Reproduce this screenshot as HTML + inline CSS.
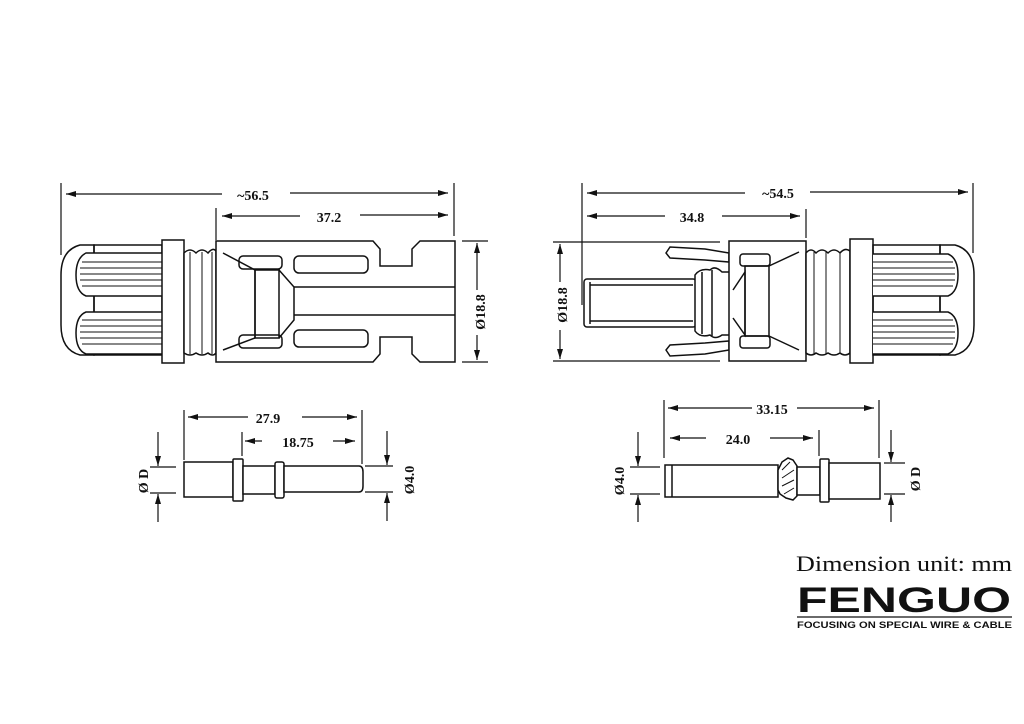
<!DOCTYPE html>
<html><head><style>
html,body{margin:0;padding:0;background:#fff;}
svg{display:block}
text{font-family:"Liberation Serif",serif;fill:#111;}
</style></head><body>
<svg width="1024" height="724" viewBox="0 0 1024 724" xmlns="http://www.w3.org/2000/svg">
<defs>
<marker id="a" viewBox="0 0 10 6" refX="10" refY="3" markerWidth="10" markerHeight="6" orient="auto-start-reverse" markerUnits="userSpaceOnUse"><path d="M0,0 L10,3 L0,6 z" fill="#111"/></marker>
</defs>
<g stroke="#111" stroke-width="1.2" fill="none">
<!-- LEFT TOP dims -->
<line x1="61" y1="183" x2="61" y2="255"/><line x1="454" y1="183" x2="454" y2="236"/>
<line x1="66" y1="194" x2="222" y2="194" marker-start="url(#a)"/><line x1="290" y1="193" x2="448" y2="193" marker-end="url(#a)"/>
<line x1="216" y1="208" x2="216" y2="240"/>
<line x1="222" y1="216" x2="300" y2="216" marker-start="url(#a)"/><line x1="360" y1="215" x2="448" y2="215" marker-end="url(#a)"/>
<line x1="462" y1="241" x2="488" y2="241"/><line x1="462" y1="362" x2="488" y2="362"/>
<line x1="477" y1="243" x2="477" y2="290" marker-start="url(#a)"/><line x1="477" y1="335" x2="477" y2="360" marker-end="url(#a)"/>
</g>
<text x="253" y="200" font-size="14" font-weight="bold" text-anchor="middle">~56.5</text>
<text x="329" y="222" font-size="14" font-weight="bold" text-anchor="middle">37.2</text>
<text transform="translate(485,312) rotate(-90)" font-size="14" font-weight="bold" text-anchor="middle">Ø18.8</text>

<!-- LEFT CONNECTOR -->
<g stroke="#111" stroke-width="1.5" fill="#fff">
<path d="M94,245 L80,245 Q61,250 61,275 L61,325 Q61,350 80,355 L94,355 Z"/>
<rect x="94" y="245" width="68" height="110" fill="none"/>
<path d="M162,253 L86,253 Q76,258 76,275 Q76,292 86,296 L162,296"/>
<path d="M162,312 L86,312 Q76,316 76,333 Q76,350 86,354 L162,354"/>
<g stroke-width="1">
<line x1="82" y1="262" x2="162" y2="262"/><line x1="80" y1="268" x2="162" y2="268"/><line x1="80" y1="274" x2="162" y2="274"/><line x1="80" y1="280" x2="162" y2="280"/><line x1="82" y1="286" x2="162" y2="286"/>
<line x1="82" y1="320" x2="162" y2="320"/><line x1="80" y1="326" x2="162" y2="326"/><line x1="80" y1="332" x2="162" y2="332"/><line x1="80" y1="338" x2="162" y2="338"/><line x1="82" y1="344" x2="162" y2="344"/>
</g>
<rect x="162" y="240" width="22" height="123"/>
<path d="M184,253 Q190,247 196,253 Q202,247 208,253 Q213,247 216,251 L216,353 Q213,357 208,353 Q202,357 196,353 Q190,357 184,353 Z"/>
<g stroke-width="1"><line x1="190" y1="252" x2="190" y2="354"/><line x1="202" y1="252" x2="202" y2="354"/><line x1="212" y1="252" x2="212" y2="354"/></g>
<path d="M216,241 L373,241 L380,249 L380,266 L412,266 L412,249 L420,241 L455,241 L455,362 L420,362 L412,354 L412,337 L380,337 L380,354 L373,362 L216,362 Z"/>
<path d="M223,253 L255,270 L255,338 L223,350" fill="none"/>
<rect x="239" y="256" width="43" height="13" rx="4" fill="none"/>
<rect x="239" y="335" width="43" height="13" rx="4" fill="none"/>
<rect x="255" y="270" width="24" height="68" fill="none"/>
<path d="M279,270 L294,287 L294,320 L279,338" fill="none"/>
<line x1="294" y1="287" x2="455" y2="287"/><line x1="294" y1="315" x2="455" y2="315"/>
<rect x="294" y="256" width="74" height="17" rx="5" fill="none"/>
<rect x="294" y="330" width="74" height="17" rx="5" fill="none"/>
</g>

<!-- RIGHT TOP dims -->
<g stroke="#111" stroke-width="1.2" fill="none">
<line x1="582" y1="183" x2="582" y2="305"/><line x1="973" y1="183" x2="973" y2="253"/>
<line x1="587" y1="193" x2="745" y2="193" marker-start="url(#a)"/><line x1="810" y1="192" x2="968" y2="192" marker-end="url(#a)"/>
<line x1="806" y1="209" x2="806" y2="238"/>
<line x1="587" y1="216" x2="665" y2="216" marker-start="url(#a)"/><line x1="722" y1="216" x2="800" y2="216" marker-end="url(#a)"/>
<line x1="553" y1="242" x2="720" y2="242"/><line x1="553" y1="361" x2="720" y2="361"/>
<line x1="560" y1="244" x2="560" y2="282" marker-start="url(#a)"/><line x1="560" y1="330" x2="560" y2="359" marker-end="url(#a)"/>
</g>
<text x="778" y="198" font-size="14" font-weight="bold" text-anchor="middle">~54.5</text>
<text x="692" y="222" font-size="14" font-weight="bold" text-anchor="middle">34.8</text>
<text transform="translate(567,305) rotate(-90)" font-size="14" font-weight="bold" text-anchor="middle">Ø18.8</text>

<!-- RIGHT CONNECTOR -->
<g stroke="#111" stroke-width="1.5" fill="#fff">
<path d="M666,253 L670,247 L705,249 L729,253 L729,262 L705,260 L670,258 Z"/>
<path d="M666,350 L670,356 L705,354 L729,350 L729,341 L705,343 L670,345 Z"/>
<rect x="584" y="279" width="112" height="48" rx="3"/>
<line x1="590" y1="282" x2="590" y2="324"/><line x1="590" y1="285" x2="693" y2="285"/><line x1="590" y1="321" x2="693" y2="321"/>
<path d="M695,275 Q700,268 710,270 Q715,265 722,272 L730,272 L730,335 L722,335 Q715,340 710,335 Q700,338 695,331 Z"/>
<line x1="702" y1="272" x2="702" y2="334"/><line x1="712" y1="270" x2="712" y2="336"/>
<rect x="729" y="241" width="77" height="120"/>
<path d="M733,290 L745,272 L745,335 L733,318" fill="none"/>
<rect x="740" y="254" width="30" height="12" rx="3" fill="none"/>
<rect x="740" y="336" width="30" height="12" rx="3" fill="none"/>
<rect x="745" y="266" width="24" height="70" fill="none"/>
<path d="M769,266 L799,252 M769,336 L799,350" fill="none"/>
<path d="M806,253 Q811,247 816,253 Q822,247 828,253 Q834,247 840,253 Q845,247 850,251 L850,353 Q845,357 840,353 Q834,357 828,353 Q822,357 816,353 Q811,357 806,353 Z"/>
<g stroke-width="1"><line x1="814" y1="252" x2="814" y2="354"/><line x1="826" y1="252" x2="826" y2="354"/><line x1="840" y1="252" x2="840" y2="354"/></g>
<rect x="850" y="239" width="23" height="124"/>
<path d="M940,245 L955,245 Q974,250 974,275 L974,325 Q974,350 955,355 L940,355 Z"/>
<rect x="873" y="245" width="67" height="110" fill="none"/>
<path d="M873,254 L948,254 Q958,258 958,275 Q958,292 948,296 L873,296"/>
<path d="M873,312 L948,312 Q958,316 958,333 Q958,350 948,354 L873,354"/>
<g stroke-width="1">
<line x1="873" y1="262" x2="953" y2="262"/><line x1="873" y1="268" x2="955" y2="268"/><line x1="873" y1="274" x2="955" y2="274"/><line x1="873" y1="280" x2="955" y2="280"/><line x1="873" y1="286" x2="953" y2="286"/>
<line x1="873" y1="320" x2="953" y2="320"/><line x1="873" y1="326" x2="955" y2="326"/><line x1="873" y1="332" x2="955" y2="332"/><line x1="873" y1="338" x2="955" y2="338"/><line x1="873" y1="344" x2="953" y2="344"/>
</g>
</g>

<!-- BOTTOM LEFT PIN -->
<g stroke="#111" stroke-width="1.2" fill="none">
<line x1="184" y1="410" x2="184" y2="460"/><line x1="362" y1="410" x2="362" y2="464"/>
<line x1="188" y1="417" x2="248" y2="417" marker-start="url(#a)"/><line x1="302" y1="417" x2="357" y2="417" marker-end="url(#a)"/>
<line x1="242" y1="432" x2="242" y2="456"/>
<line x1="245" y1="441" x2="262" y2="441" marker-start="url(#a)"/><line x1="333" y1="441" x2="355" y2="441" marker-end="url(#a)"/>
<line x1="150" y1="467" x2="176" y2="467"/><line x1="150" y1="493" x2="176" y2="493"/>
<line x1="158" y1="432" x2="158" y2="466" marker-end="url(#a)"/><line x1="158" y1="494" x2="158" y2="522" marker-start="url(#a)"/>
<line x1="365" y1="466" x2="393" y2="466"/><line x1="365" y1="492" x2="393" y2="492"/>
<line x1="387" y1="431" x2="387" y2="465" marker-end="url(#a)"/><line x1="387" y1="493" x2="387" y2="521" marker-start="url(#a)"/>
</g>
<g stroke="#111" stroke-width="1.5" fill="#fff">
<rect x="184" y="462" width="49" height="35"/>
<rect x="233" y="459" width="10" height="42" rx="1"/>
<rect x="243" y="466" width="32" height="28"/>
<rect x="275" y="462" width="9" height="36" rx="2"/>
<path d="M284,466 L359,466 Q363,466 363,472 L363,486 Q363,492 359,492 L284,492 Z"/>
</g>
<text x="268" y="423" font-size="14" font-weight="bold" text-anchor="middle">27.9</text>
<text x="298" y="447" font-size="14" font-weight="bold" text-anchor="middle">18.75</text>
<text transform="translate(148,481) rotate(-90)" font-size="14" font-weight="bold" text-anchor="middle">Ø D</text>
<text transform="translate(414,480) rotate(-90)" font-size="14" font-weight="bold" text-anchor="middle">Ø4.0</text>

<!-- BOTTOM RIGHT PIN -->
<g stroke="#111" stroke-width="1.2" fill="none">
<line x1="664" y1="400" x2="664" y2="458"/><line x1="879" y1="400" x2="879" y2="458"/>
<line x1="668" y1="408" x2="752" y2="408" marker-start="url(#a)"/><line x1="797" y1="408" x2="874" y2="408" marker-end="url(#a)"/>
<line x1="819" y1="430" x2="819" y2="456"/>
<line x1="670" y1="438" x2="706" y2="438" marker-start="url(#a)"/><line x1="770" y1="438" x2="813" y2="438" marker-end="url(#a)"/>
<line x1="630" y1="467" x2="660" y2="467"/><line x1="630" y1="494" x2="660" y2="494"/>
<line x1="638" y1="432" x2="638" y2="466" marker-end="url(#a)"/><line x1="638" y1="495" x2="638" y2="522" marker-start="url(#a)"/>
<line x1="884" y1="463" x2="905" y2="463"/><line x1="884" y1="494" x2="905" y2="494"/>
<line x1="891" y1="430" x2="891" y2="462" marker-end="url(#a)"/><line x1="891" y1="495" x2="891" y2="522" marker-start="url(#a)"/>
</g>
<g stroke="#111" stroke-width="1.5" fill="#fff">
<rect x="665" y="465" width="113" height="32"/>
<line x1="672" y1="465" x2="672" y2="497"/>
<path d="M778,470 L782,462 L788,458 L793,460 L797,466 L797,496 L793,500 L786,498 L780,494 L778,490 Z"/>
<path d="M782,470 L790,462 M782,478 L794,470 M782,486 L794,480 M784,494 L794,488" fill="none" stroke-width="1"/>
<rect x="797" y="467" width="23" height="28"/>
<rect x="820" y="459" width="9" height="43" rx="1"/>
<rect x="829" y="463" width="51" height="36"/>
</g>
<text x="772" y="414" font-size="14" font-weight="bold" text-anchor="middle">33.15</text>
<text x="738" y="444" font-size="14" font-weight="bold" text-anchor="middle">24.0</text>
<text transform="translate(624,481) rotate(-90)" font-size="14" font-weight="bold" text-anchor="middle">Ø4.0</text>
<text transform="translate(920,479) rotate(-90)" font-size="14" font-weight="bold" text-anchor="middle">Ø D</text>

<!-- Branding -->
<text x="1012" y="571" font-size="22" text-anchor="end" textLength="216" lengthAdjust="spacingAndGlyphs">Dimension unit: mm</text>
<text x="797" y="612" font-size="35" font-weight="900" style="font-family:'Liberation Sans',sans-serif" textLength="214" lengthAdjust="spacingAndGlyphs">FENGUO</text>
<line x1="797" y1="617" x2="1012" y2="617" stroke="#111" stroke-width="1.2"/>
<text x="797" y="628" font-size="9.5" font-weight="bold" style="font-family:'Liberation Sans',sans-serif" textLength="215" lengthAdjust="spacingAndGlyphs">FOCUSING ON SPECIAL WIRE &amp; CABLE</text>
</svg>
</body></html>
